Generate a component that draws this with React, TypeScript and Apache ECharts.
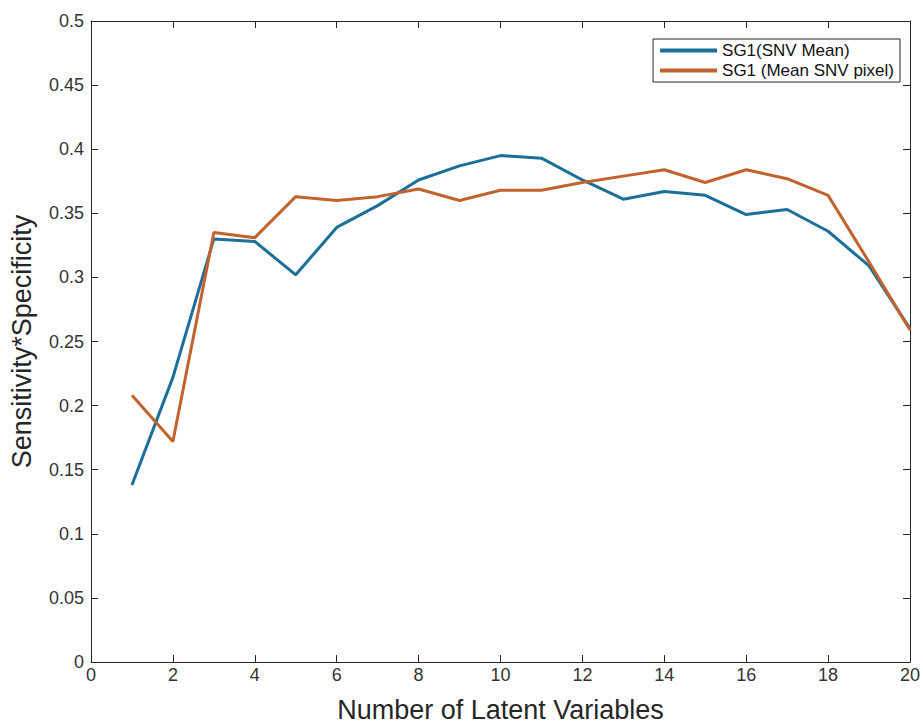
import React, { useEffect, useRef } from "react";
import * as echarts from "echarts";

// Number of latent variables on the x axis
const latentVars = [1, 2, 3, 4, 5, 6, 7, 8, 9, 10, 11, 12, 13, 14, 15, 16, 17, 18, 19, 20];

// Sensitivity*Specificity for each preprocessing variant
const sg1SnvMean = [
  0.138, 0.222, 0.330, 0.328, 0.302, 0.339, 0.356, 0.376, 0.387, 0.395,
  0.393, 0.376, 0.361, 0.367, 0.364, 0.349, 0.353, 0.336, 0.309, 0.260,
];
const sg1MeanSnvPixel = [
  0.208, 0.172, 0.335, 0.331, 0.363, 0.360, 0.363, 0.369, 0.360, 0.368,
  0.368, 0.374, 0.379, 0.384, 0.374, 0.384, 0.377, 0.364, 0.312, 0.259,
];

const seriesNames = ["SG1(SNV Mean)", "SG1 (Mean SNV pixel)"];
const seriesColors = ["#1B6F98", "#C2622E"];

const FONT = "'Liberation Sans', Arial, Helvetica, sans-serif";
const AXIS_COLOR = "#262626";
const LABEL_COLOR = "#333333";

export default function App() {
  const ref = useRef<HTMLDivElement>(null);

  useEffect(() => {
    if (!ref.current) return;
    const chart = echarts.init(ref.current, null, { renderer: "svg" });

    const tickFmt = (v: number) => String(+v.toFixed(2));
    const axisLine = { show: true, onZero: false, lineStyle: { color: AXIS_COLOR, width: 1 } };
    const axisTick = { show: true, inside: true, length: 7, lineStyle: { color: AXIS_COLOR, width: 1 } };

    chart.setOption({
      animation: false,
      backgroundColor: "#ffffff",
      textStyle: { fontFamily: FONT },
      grid: { left: 89, right: 13, top: 21, bottom: 64, containLabel: false },
      legend: {
        data: seriesNames,
        orient: "vertical",
        right: 23,
        top: 39,
        backgroundColor: "#ffffff",
        borderColor: AXIS_COLOR,
        borderWidth: 1,
        padding: [3, 6, 3, 7],
        itemGap: 3,
        itemWidth: 57,
        itemHeight: 4,
        icon: "rect",
        textStyle: { fontFamily: FONT, fontSize: 17, color: "#111" },
      },
      xAxis: [
        {
          type: "value",
          position: "bottom",
          min: 0,
          max: 20,
          interval: 2,
          name: "Number of Latent Variables",
          nameLocation: "middle",
          nameGap: 34,
          nameTextStyle: { fontFamily: FONT, fontSize: 27, color: AXIS_COLOR },
          axisLine,
          axisTick,
          splitLine: { show: false },
          axisLabel: { fontFamily: FONT, fontSize: 18, color: LABEL_COLOR, margin: 4, formatter: tickFmt },
        },
        {
          type: "value",
          position: "top",
          min: 0,
          max: 20,
          interval: 2,
          axisLine,
          axisTick,
          splitLine: { show: false },
          axisLabel: { show: false },
        },
      ],
      yAxis: [
        {
          type: "value",
          position: "left",
          min: 0,
          max: 0.5,
          interval: 0.05,
          name: "Sensitivity*Specificity",
          nameLocation: "middle",
          nameGap: 56,
          nameTextStyle: { fontFamily: FONT, fontSize: 27, color: AXIS_COLOR },
          axisLine,
          axisTick,
          splitLine: { show: false },
          axisLabel: { fontFamily: FONT, fontSize: 18, color: LABEL_COLOR, margin: 7, formatter: tickFmt },
        },
        {
          type: "value",
          position: "right",
          min: 0,
          max: 0.5,
          interval: 0.05,
          axisLine,
          axisTick,
          splitLine: { show: false },
          axisLabel: { show: false },
        },
      ],
      series: [
        {
          name: seriesNames[0],
          type: "line",
          data: latentVars.map((x, i) => [x, sg1SnvMean[i]]),
          showSymbol: false,
          symbol: "none",
          color: seriesColors[0],
          lineStyle: { width: 3, color: seriesColors[0] },
        },
        {
          name: seriesNames[1],
          type: "line",
          data: latentVars.map((x, i) => [x, sg1MeanSnvPixel[i]]),
          showSymbol: false,
          symbol: "none",
          color: seriesColors[1],
          lineStyle: { width: 3, color: seriesColors[1] },
        },
      ],
    });

    return () => chart.dispose();
  }, []);

  return <div ref={ref} style={{ width: 923, height: 728, position: "absolute", left: 0, top: 0 }} />;
}
